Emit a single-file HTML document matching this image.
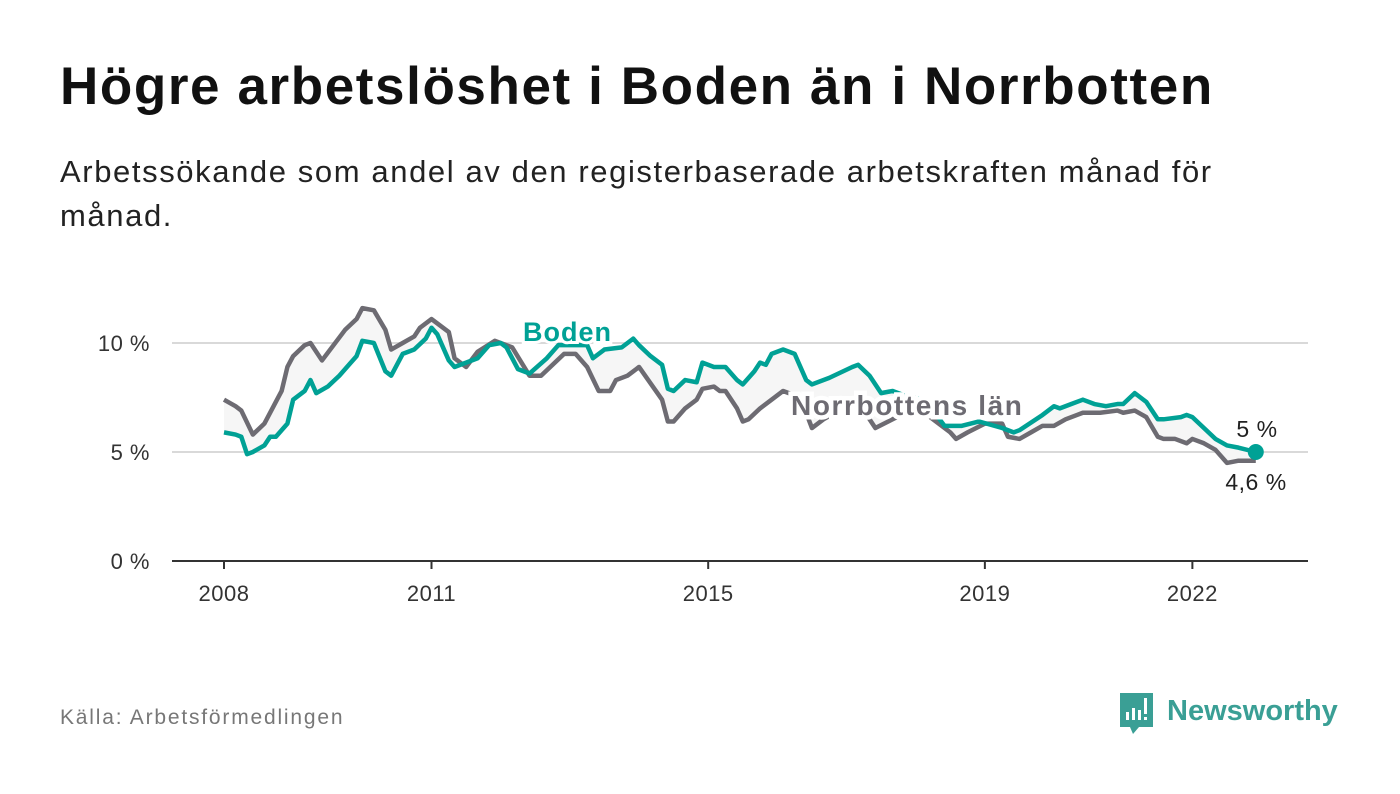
<!DOCTYPE html>
<html><head><meta charset="utf-8">
<style>
body{margin:0;background:#fff;width:1400px;height:794px;overflow:hidden;font-family:"Liberation Sans",sans-serif;}
#title{position:absolute;left:60px;top:56px;font-size:53px;font-weight:bold;color:#111;margin:0;letter-spacing:1.6px}
#sub{position:absolute;left:60px;top:150px;font-size:31px;color:#222;line-height:44px;width:1230px;letter-spacing:1.6px}
#src{position:absolute;left:60px;top:706px;font-size:21px;color:#777;letter-spacing:1.8px}
svg{position:absolute;left:0;top:0}
</style></head><body>
<h1 id="title">Högre arbetslöshet i Boden än i Norrbotten</h1>
<div id="sub">Arbetssökande som andel av den registerbaserade arbetskraften månad för<br>månad.</div>
<div id="src">Källa: Arbetsförmedlingen</div>
<svg id="chart" width="1400" height="794"></svg>
<script>
const yTicks=[0,5,10];
const xTickYears=[2008,2011,2015,2019,2022];
const nbMonths=[0,2,3,5,7,9,10,11,12,14,15,17,19,21,23,24,26,28,29,31,33,34,36,39,40,42,44,47,50,53,55,59,61,63,65,67,68,70,72,76,77,78,80,82,83,85,86,87,89,90,91,93,95,97,100,102,104,106,110,113,116,119,122,126,127,129,132,135,136,138,140,142,144,146,148,149,152,155,156,158,160,162,163,165,167,168,170,172,174,176,179];
const nbValues=[7.4,7.1,6.9,5.8,6.3,7.3,7.8,8.9,9.4,9.9,10.0,9.2,9.9,10.6,11.1,11.6,11.5,10.6,9.7,10.0,10.3,10.7,11.1,10.5,9.3,8.9,9.6,10.1,9.8,8.5,8.5,9.5,9.5,8.9,7.8,7.8,8.3,8.5,8.9,7.4,6.4,6.4,7.0,7.4,7.9,8.0,7.8,7.8,7.0,6.4,6.5,7.0,7.4,7.8,7.5,6.1,6.5,6.8,7.3,6.1,6.5,6.9,6.7,5.9,5.6,5.9,6.3,6.3,5.7,5.6,5.9,6.2,6.2,6.5,6.7,6.8,6.8,6.9,6.8,6.9,6.6,5.7,5.6,5.6,5.4,5.6,5.4,5.1,4.5,4.6,4.6];
const bdMonths=[0,2,3,4,5,7,8,9,11,12,14,15,16,18,20,22,23,24,26,28,29,31,33,35,36,37,39,40,42,44,46,48,49,51,53,56,58,60,63,64,66,69,71,72,74,76,77,78,80,82,83,85,87,89,90,92,93,94,95,97,99,101,102,105,109,110,112,114,116,118,121,123,125,128,131,135,137,138,142,144,145,147,149,151,153,155,156,158,160,162,163,166,167,168,170,172,174,176,179];
const bdValues=[5.9,5.8,5.7,4.9,5.0,5.3,5.7,5.7,6.3,7.4,7.8,8.3,7.7,8.0,8.5,9.1,9.4,10.1,10.0,8.7,8.5,9.5,9.7,10.2,10.7,10.4,9.2,8.9,9.1,9.3,9.9,10.0,9.8,8.8,8.6,9.3,9.9,9.9,9.9,9.3,9.7,9.8,10.2,9.9,9.4,9.0,7.9,7.8,8.3,8.2,9.1,8.9,8.9,8.3,8.1,8.7,9.1,9.0,9.5,9.7,9.5,8.3,8.1,8.4,8.9,9.0,8.5,7.7,7.8,7.6,7.4,6.9,6.2,6.2,6.4,6.1,5.9,6.0,6.7,7.1,7.0,7.2,7.4,7.2,7.1,7.2,7.2,7.7,7.3,6.5,6.5,6.6,6.7,6.6,6.1,5.6,5.3,5.2,5.0];
const svg=document.getElementById('chart');
const NS='http://www.w3.org/2000/svg';
const X0=224,PXY=69.17,Y0=561,PXV=21.8;
const xm=m=>X0+m*PXY/12;
const xy=yr=>X0+(yr-2008)*PXY;
const yv=v=>Y0-v*PXV;
function mk(t,a){const e=document.createElementNS(NS,t);for(const k in a)e.setAttribute(k,a[k]);svg.appendChild(e);return e;}
yTicks.forEach(t=>{
 if(t>0){const g=mk('line',{x1:172,x2:1308,y1:yv(t),y2:yv(t),stroke:'#d9d9d9','stroke-width':2});
 
 }
 const l=mk('text',{x:150,y:yv(t)+8,'text-anchor':'end','font-size':22,fill:'#333','letter-spacing':0.5,'font-family':'Liberation Sans, sans-serif'});
 l.textContent=t+' %';
 
 
});
const ax=mk('line',{x1:172,x2:1308,y1:Y0,y2:Y0,stroke:'#333','stroke-width':2});


xTickYears.forEach(yr=>{
 const t=mk('line',{x1:xy(yr),x2:xy(yr),y1:Y0,y2:Y0+8,stroke:'#333','stroke-width':2});
 
 
 const l=mk('text',{x:xy(yr),y:Y0+40,'text-anchor':'middle','font-size':22,fill:'#333','letter-spacing':0.5,'font-family':'Liberation Sans, sans-serif'});
 l.textContent=yr;
 
 
});
const ptsN=nbMonths.map((m,i)=>xm(m)+','+yv(nbValues[i]));
const ptsB=bdMonths.map((m,i)=>xm(m)+','+yv(bdValues[i]));
const area=mk('polygon',{points:ptsN.concat(ptsB.slice().reverse()).join(' '),fill:'#f6f6f6'});


const ln=mk('polyline',{points:ptsN.join(' '),fill:'none',stroke:'#6d6b72','stroke-width':4.5,'stroke-linejoin':'round'});


const lb=mk('polyline',{points:ptsB.join(' '),fill:'none',stroke:'#00a195','stroke-width':4.5,'stroke-linejoin':'round'});


const dot=mk('circle',{cx:xm(bdMonths[bdMonths.length-1]),cy:yv(bdValues[bdValues.length-1]),r:8,fill:'#00a195'});


function txt(s,x,y,a,name){const t=mk('text',a);t.setAttribute('x',x);t.setAttribute('y',y);t.textContent=s;
 
 return t;}
txt('Boden',523,341,{'font-size':27,'font-weight':'bold',fill:'#00a195','letter-spacing':1,'font-family':'Liberation Sans, sans-serif',stroke:'#fff','stroke-width':6,'paint-order':'stroke'},'boden-label');
txt('Norrbottens län',791,415,{'font-size':28,'font-weight':'bold',fill:'#6d6b72','letter-spacing':1.6,'font-family':'Liberation Sans, sans-serif',stroke:'#fff','stroke-width':9,'paint-order':'stroke'},'norrbotten-label');
txt('5 %',1257,437,{'font-size':23,fill:'#222','text-anchor':'middle','letter-spacing':0.5,'font-family':'Liberation Sans, sans-serif'},'boden-end-value');
txt('4,6 %',1256,490,{'font-size':23,fill:'#222','text-anchor':'middle','letter-spacing':0.5,'font-family':'Liberation Sans, sans-serif'},'norrbotten-end-value');
</script>
<svg width="1400" height="794" style="position:absolute;left:0;top:0">
<path d="M1120 693h33v34h-14l-6 7l-3-7h-10z" fill="#3a9f95"/>
<rect x="1126" y="712" width="3" height="8" fill="#fff"/><rect x="1132" y="708" width="3" height="12" fill="#fff"/><rect x="1138" y="710" width="3" height="10" fill="#fff"/><rect x="1144" y="698" width="3" height="16" fill="#fff"/><rect x="1144" y="717" width="3" height="3" fill="#fff"/>
<text x="1167" y="720" font-size="29" font-weight="bold" fill="#3a9f95" font-family="Liberation Sans, sans-serif">Newsworthy</text>
</svg>
</body></html>
